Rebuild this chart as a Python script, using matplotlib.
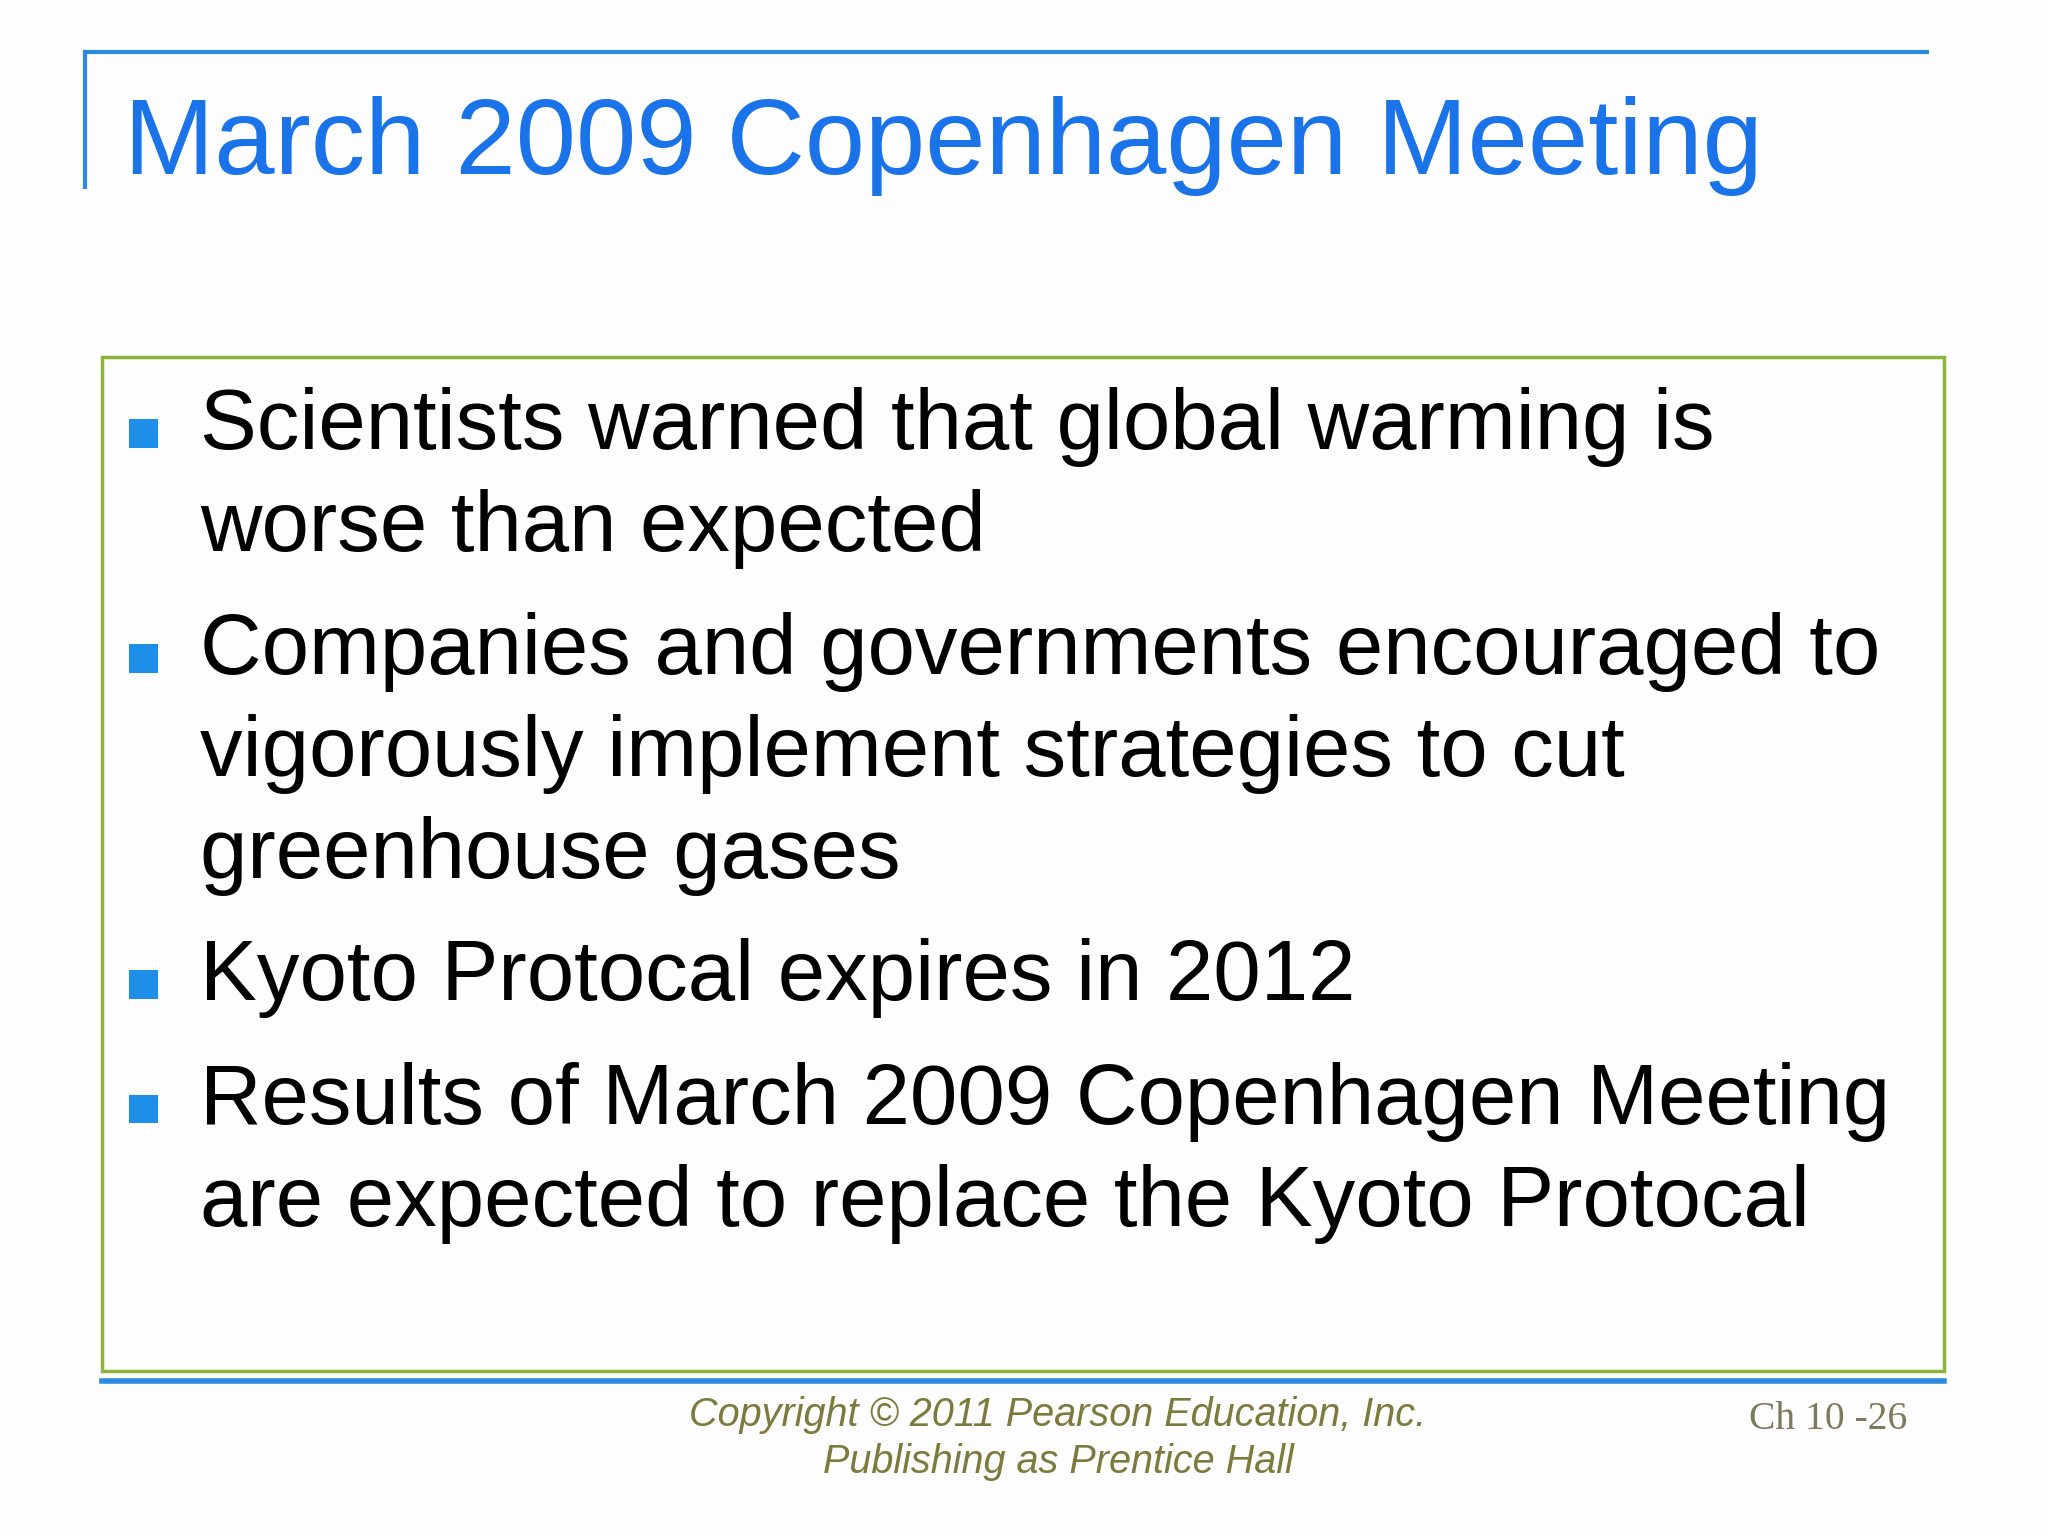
import matplotlib
matplotlib.use("Agg")
import matplotlib.pyplot as plt
from matplotlib.patches import Rectangle

W, H = 1568, 1176
title = "March 2009 Copenhagen Meeting"
bullets = [
    ["Scientists warned that global warming is", "worse than expected"],
    ["Companies and governments encouraged to", "vigorously implement strategies to cut", "greenhouse gases"],
    ["Kyoto Protocal expires in 2012"],
    ["Results of March 2009 Copenhagen Meeting", "are expected to replace the Kyoto Protocal"],
]
bullet_tops = [327, 499, 749, 844]  # text line centers (px in 1568x1176 reference)
footer = ["Copyright © 2011 Pearson Education, Inc.", "Publishing as Prentice Hall"]
page = "Ch 10 -26"

fig = plt.figure(figsize=(20.48, 15.36), dpi=100)
fig.patch.set_facecolor("#fdfdfd")
ax = fig.add_axes([0, 0, 1, 1])
ax.set_xlim(0, W); ax.set_ylim(H, 0); ax.axis("off")

blue = "#1a73e8"
ax.plot([65, 1475], [40, 40], color="#2b8be0", lw=3)
ax.plot([65, 65], [40, 143], color="#2b8be0", lw=3)
ax.text(95, 112, title, color=blue, fontsize=78, family="Liberation Sans", va="center")

ax.add_patch(Rectangle((78, 273), 1410, 777, fill=False, ec="#8db33a", lw=2.5))
ax.plot([78, 1488], [1057, 1057], color="#2b8be0", lw=4)

lh = 78
for top, lines in zip(bullet_tops, bullets):
    ax.add_patch(Rectangle((99, top - 6), 22, 22, color="#1e8fe8", lw=0))
    for i, ln in enumerate(lines):
        ax.text(153, top + i * lh, ln, fontsize=61.3, family="Liberation Sans",
                color="black", va="center")

ax.text(810, 1083, footer[0], fontsize=28.5, style="italic", family="Liberation Sans",
        color="#7c7a3c", ha="center", va="center")
ax.text(810, 1119, footer[1], fontsize=28.5, style="italic", family="Liberation Sans",
        color="#7c7a3c", ha="center", va="center")
ax.text(1460, 1087, page, fontsize=28.5, family="Liberation Serif",
        color="#7c7a5a", ha="right", va="center")

fig.savefig("out.png", dpi=100, facecolor=fig.get_facecolor())
